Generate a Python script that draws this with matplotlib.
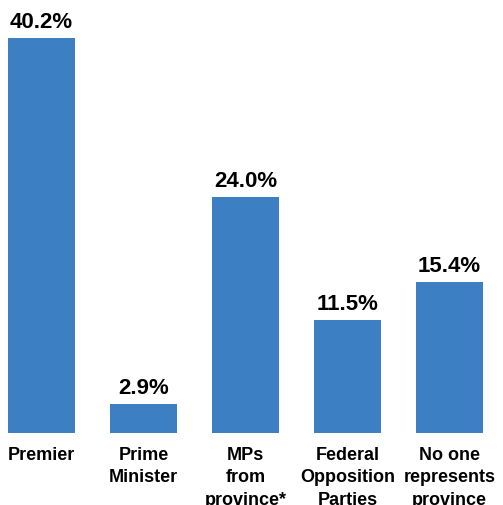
import matplotlib
matplotlib.use("Agg")
import matplotlib.pyplot as plt

# who best represents the province
categories = ["Premier", "Prime\nMinister", "MPs\nfrom\nprovince*",
              "Federal\nOpposition\nParties", "No one\nrepresents\nprovince"]
shares = [40.2, 2.9, 24.0, 11.5, 15.4]

BLUE = "#3c80c3"
plt.rcParams["font.family"] = ["Liberation Sans", "DejaVu Sans"]

fig = plt.figure(figsize=(5.03, 5.06), dpi=100)
ax = fig.add_axes([0, 72 / 506, 1, 434 / 506])

xs = range(len(shares))
ax.bar(xs, shares, width=0.66, color=BLUE)

for x, v in zip(xs, shares):
    ax.annotate(f"{v:.1f}%", (x, v), xytext=(0, 8), textcoords="offset points",
                ha="center", va="baseline", fontsize=16, fontweight="bold")
    ax.annotate(categories[x], (x, 0), xytext=(0, -9.5), textcoords="offset points",
                ha="center", va="top", fontsize=13, fontweight="bold",
                linespacing=1.4, annotation_clip=False)

ax.set_xlim(-0.407, 4.525)
ax.set_ylim(0, 44.15)
ax.axis("off")

fig.savefig("out.png", dpi=100)
